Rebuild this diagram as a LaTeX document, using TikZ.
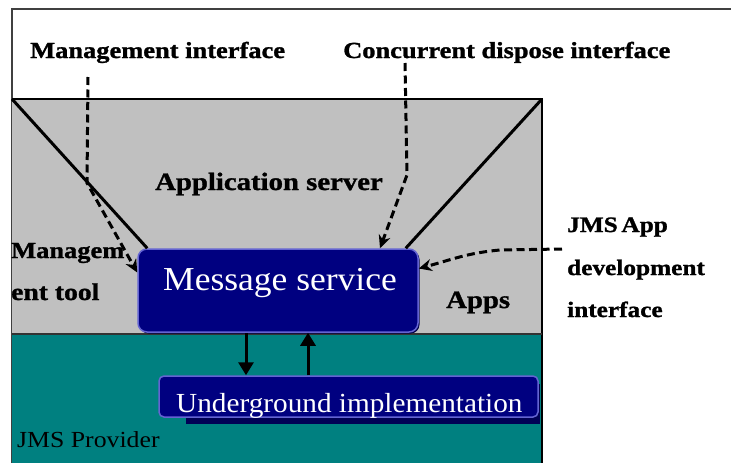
\documentclass[tikz,border=0pt]{standalone}
\usepackage{fontspec}
\setmainfont{Liberation Serif}
\newfontfamily\lblfont{Liberation Serif Bold}[FakeStretch=1.15, FakeBold=1.2]
\newfontfamily\boxfont{Liberation Serif}[FakeStretch=1.06]
\newfontfamily\provfont{Liberation Serif}[FakeStretch=1.12]
\usetikzlibrary{arrows.meta,calc,shadows}
\definecolor{srvgray}{HTML}{C0C0C0}
\definecolor{provteal}{HTML}{008080}
\definecolor{boxnavy}{HTML}{000080}
\definecolor{boxedge}{HTML}{6464D2}
\definecolor{boxshade}{HTML}{00004A}
\definecolor{framegray}{HTML}{404040}

\begin{document}
\begin{tikzpicture}[x=1pt,y=-1pt,
  lbl/.style={font=\lblfont\fontsize{23}{23}\selectfont, anchor=base west, inner sep=0pt, text=black},
  boxtext/.style={text=white, anchor=base west, inner sep=0pt},
  navybox/.style={fill=boxnavy, draw=boxedge, line width=1.5pt, inner sep=0pt},
  wire/.style={line width=3pt, black},
  dasharrow/.style={line width=3pt, black, dash pattern=on 8pt off 4.5pt,
    -{Stealth[length=13pt,width=12pt]}},
  flow/.style={line width=3pt, black, -{Triangle[length=13pt,width=15pt]}}
]
\useasboundingbox (0,0) rectangle (731,463);
\fill[white] (0,0) rectangle (731,463);

% outer frame
\draw[framegray, line width=1.6pt] (731,9) -- (12,9) -- (12,463);

% application server and provider areas
\fill[srvgray] (12,99) rectangle (542,334);
\fill[provteal] (12,334) rectangle (542,463);
\draw[black, line width=1.6pt] (12,99) -- (542,99) -- (542,463);
\draw[black!80, line width=1.6pt] (12,334) -- (542,334);

% corner coordinates of the server area
\coordinate (srvtl) at (12,99);
\coordinate (srvtr) at (542,99);

% message service box
\node[navybox, rounded corners=9pt, minimum width=280pt, minimum height=83pt,
      drop shadow={shadow xshift=1.5pt, shadow yshift=-1.5pt, fill=boxshade, opacity=1}]
      (msg) at (278,290.5) {};
\node[boxtext, font=\boxfont\fontsize{33.5}{34}\selectfont] (msgtxt) at (163,290) {Message service};

% underground implementation box with its offset shade
\fill[boxshade!80!boxnavy] (186,384) rectangle (540,424);
\node[navybox, rounded corners=5pt, minimum width=379pt, minimum height=41pt]
      (und) at (348.5,396.5) {};
\node[boxtext, font=\boxfont\fontsize{27.6}{28}\selectfont] (undtxt) at (176,412) {Underground implementation};

% diagonal walls of the application server
\draw[wire] (srvtl) -- ([xshift=10pt]msg.north west);
\draw[wire] (srvtr) -- ([xshift=-13pt]msg.north east);

% calls between message service and implementation
\draw[flow] ([xshift=-32pt]msg.south) -- ([xshift=-32pt]msg.south |- und.north);
\draw[flow] ([xshift=30pt]msg.south |- und.north) -- ([xshift=30pt]msg.south);

% labels
\node[lbl] (mgmtif) at (30,58) {Management interface};
\node[lbl] (concif) at (343,58) {Concurrent dispose interface};
\node[lbl, font=\lblfont\fontsize{25}{25}\selectfont] (appsrv) at (155,190) {Application server};
\node[lbl, font=\lblfont\fontsize{23}{23}\selectfont] (mgmtool1) at (11,258) {Managem};
\node[lbl, font=\lblfont\fontsize{24}{24}\selectfont] (mgmtool2) at (11,300) {ent tool};
\node[lbl, font=\lblfont\fontsize{25}{25}\selectfont] (apps) at (446,308) {Apps};
\node[lbl, font=\lblfont\fontsize{22}{22}\selectfont] (jms1) at (567,232) {JMS\,App};
\node[lbl, font=\lblfont\fontsize{22}{22}\selectfont] (jms2) at (567,275) {development};
\node[lbl, font=\lblfont\fontsize{22}{22}\selectfont] (jms3) at (567,317) {interface};
\node[anchor=base west, inner sep=0pt, font=\provfont\fontsize{23}{23}\selectfont] (prov) at (17,447) {JMS Provider};

% interface call paths
\coordinate (mgmtstart) at (88,77);
\coordinate (concstart) at (405,63);
\coordinate (jmsstart) at (562,249);
\draw[dasharrow] (mgmtstart) -- (87,183) -- ([yshift=18pt]msg.west);
\draw[dasharrow] (concstart) -- (407,175) -- ([xshift=102pt]msg.north);
\draw[dasharrow] (jmsstart) -- (500,250) to[out=185,in=15] ([yshift=22pt]msg.east);
\end{tikzpicture}
\end{document}
